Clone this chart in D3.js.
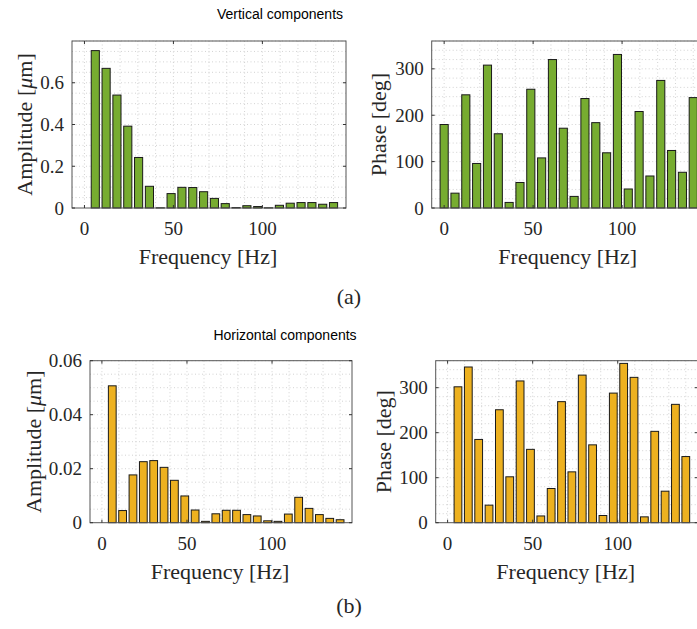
<!DOCTYPE html>
<html>
<head>
<meta charset="utf-8">
<script src="https://cdn.jsdelivr.net/npm/d3@7"></script>
<style>
  body { margin: 0; background: #fff; }
  svg { display: block; }
</style>
</head>
<body>
<script>
// harmonic frequencies [Hz]
const freqs = [0, 6.09, 12.17, 18.26, 24.35, 30.43, 36.52, 42.61, 48.70, 54.78, 60.87, 66.96,
               73.04, 79.13, 85.22, 91.30, 97.39, 103.48, 109.57, 115.65, 121.74, 127.83, 133.91, 140];

// vertical components
const vertAmp = [0, 0.754, 0.669, 0.541, 0.392, 0.242, 0.104, 0.001, 0.069, 0.099, 0.098, 0.078,
                 0.046, 0.021, 0.002, 0.011, 0.007, 0.001, 0.013, 0.023, 0.026, 0.026, 0.018, 0.026];
const vertPhase = [180, 32, 244, 96, 308, 160, 12, 55, 256, 108, 320, 172,
                   25, 236, 184, 119, 331, 41, 208, 69, 275, 124, 77, 238];

// horizontal components (no DC term)
const horAmp = [null, 0.0507, 0.0045, 0.0177, 0.0226, 0.0230, 0.0205, 0.0157, 0.0099, 0.0047, 0.0005, 0.0033,
                0.0046, 0.0046, 0.0030, 0.0025, 0.0007, 0.0005, 0.0032, 0.0094, 0.0053, 0.0030, 0.0016, 0.0011];
const horPhase = [null, 302, 346, 185, 39, 251, 102, 315, 163, 15, 76, 269,
                  113, 328, 173, 16, 288, 354, 323, 13, 203, 70, 263, 147];

const xTicks = [0, 50, 100];
const ampTicksV = [0, 0.2, 0.4, 0.6];
const ampTicksH = [0, 0.02, 0.04, 0.06];
const phaseTicks = [0, 100, 200, 300];

const width = 697, height = 629;
const green = "#77AC30", orange = "#EDB120";

const svg = d3.select("body").append("svg")
    .attr("width", width)
    .attr("height", height);

const serif = "'Liberation Serif', 'Times New Roman', serif";
const sans = "'Liberation Sans', Arial, sans-serif";

function drawPanel(p) {
    const x = d3.scaleLinear().domain([-7, 147]).range([p.left, p.left + p.w]);
    const y = d3.scaleLinear().domain(p.yDomain).range([p.top + p.h, p.top]);
    const bottom = p.top + p.h;

    const g = svg.append("g");
    g.append("rect")
        .attr("x", p.left).attr("y", p.top)
        .attr("width", p.w).attr("height", p.h)
        .attr("fill", "#fff");

    // dotted grid, minor + major
    const xGrid = d3.range(0, 150, 10);
    const yGrid = d3.range(p.yDomain[0], p.yDomain[1] + 1e-9, p.yMinor);
    g.selectAll(".gx").data(xGrid).enter().append("line")
        .attr("x1", d => x(d)).attr("x2", d => x(d))
        .attr("y1", p.top).attr("y2", bottom)
        .attr("stroke", "#c8c8c8").attr("stroke-width", 0.8)
        .attr("stroke-dasharray", "1,2.5");
    g.selectAll(".gy").data(yGrid.filter(d => d > 0)).enter().append("line")
        .attr("x1", p.left).attr("x2", p.left + p.w)
        .attr("y1", d => y(d)).attr("y2", d => y(d))
        .attr("stroke", "#c8c8c8").attr("stroke-width", 0.8)
        .attr("stroke-dasharray", "1,2.5");

    // bars
    const bw = x(6.087 * 0.75) - x(0);
    const rows = freqs.map((f, i) => ({f: f, v: p.values[i]})).filter(d => d.v !== null);
    g.selectAll(".bar").data(rows).enter().append("rect")
        .attr("x", d => x(d.f) - bw / 2)
        .attr("y", d => y(d.v))
        .attr("width", bw)
        .attr("height", d => bottom - y(d.v))
        .attr("fill", p.color)
        .attr("stroke", "#1a1a1a")
        .attr("stroke-width", 1);

    // box
    g.append("rect")
        .attr("x", p.left).attr("y", p.top)
        .attr("width", p.w).attr("height", p.h)
        .attr("fill", "none").attr("stroke", "#555").attr("stroke-width", 1);

    // inward ticks on all sides
    const tl = 3;
    xTicks.forEach(t => {
        g.append("line").attr("x1", x(t)).attr("x2", x(t)).attr("y1", bottom).attr("y2", bottom - tl)
            .attr("stroke", "#333");
        g.append("line").attr("x1", x(t)).attr("x2", x(t)).attr("y1", p.top).attr("y2", p.top + tl)
            .attr("stroke", "#333");
        g.append("text").attr("x", x(t)).attr("y", bottom + 27)
            .attr("text-anchor", "middle")
            .style("font-family", serif).style("font-size", "19px").attr("fill", "#262626")
            .text(t);
    });
    p.yTicks.forEach(t => {
        g.append("line").attr("x1", p.left).attr("x2", p.left + tl).attr("y1", y(t)).attr("y2", y(t))
            .attr("stroke", "#333");
        g.append("line").attr("x1", p.left + p.w).attr("x2", p.left + p.w - tl).attr("y1", y(t)).attr("y2", y(t))
            .attr("stroke", "#333");
        g.append("text").attr("x", p.left - 8).attr("y", y(t)).attr("dy", "0.35em")
            .attr("text-anchor", "end")
            .style("font-family", serif).style("font-size", "19px").attr("fill", "#262626")
            .text(p.fmt(t));
    });

    // axis labels
    g.append("text")
        .attr("x", p.left + p.w / 2 - 1).attr("y", bottom + 56)
        .attr("text-anchor", "middle")
        .style("font-family", serif).style("font-size", "22px").attr("fill", "#262626")
        .text("Frequency [Hz]");

    const yl = g.append("text")
        .attr("transform", `translate(${p.ylabelX},${p.top + p.h / 2}) rotate(-90)`)
        .attr("dy", "0.35em")
        .attr("text-anchor", "middle")
        .style("font-family", serif).style("font-size", "22px").attr("fill", "#262626");
    if (p.ylabel === "amp") {
        yl.append("tspan").text("Amplitude [");
        yl.append("tspan").style("font-style", "italic").text("\u03bc");
        yl.append("tspan").text("m]");
    } else {
        yl.text("Phase [deg]");
    }
}

const fmtAmp = d => d === 0 ? "0" : d3.format(".1f")(d);
const fmtAmpH = d => d === 0 ? "0" : d3.format(".2f")(d);
const fmtInt = d => String(d);

drawPanel({left: 72, top: 41, w: 274, h: 167, values: vertAmp, yDomain: [0, 0.8], yMinor: 0.05,
           yTicks: ampTicksV, fmt: fmtAmp, color: green, ylabel: "amp", ylabelX: 24});
drawPanel({left: 431.7, top: 41, w: 274, h: 167, values: vertPhase, yDomain: [0, 360], yMinor: 20,
           yTicks: phaseTicks, fmt: fmtInt, color: green, ylabel: "phase", ylabelX: 378});
drawPanel({left: 90, top: 360.7, w: 262, h: 162, values: horAmp, yDomain: [0, 0.06], yMinor: 0.005,
           yTicks: ampTicksH, fmt: fmtAmpH, color: orange, ylabel: "amp", ylabelX: 33});
drawPanel({left: 435.7, top: 360.7, w: 262, h: 162, values: horPhase, yDomain: [0, 360], yMinor: 20,
           yTicks: phaseTicks, fmt: fmtInt, color: orange, ylabel: "phase", ylabelX: 383.3});

// section titles and captions
svg.append("text").attr("x", 280).attr("y", 18.5).attr("text-anchor", "middle")
    .style("font-family", sans).style("font-size", "14px").attr("fill", "#000")
    .text("Vertical components");
svg.append("text").attr("x", 285).attr("y", 340).attr("text-anchor", "middle")
    .style("font-family", sans).style("font-size", "14px").attr("fill", "#000")
    .text("Horizontal components");
svg.append("text").attr("x", 349).attr("y", 304).attr("text-anchor", "middle")
    .style("font-family", serif).style("font-size", "22px").attr("fill", "#262626")
    .text("(a)");
svg.append("text").attr("x", 349).attr("y", 613).attr("text-anchor", "middle")
    .style("font-family", serif).style("font-size", "22px").attr("fill", "#262626")
    .text("(b)");
</script>
</body>
</html>
